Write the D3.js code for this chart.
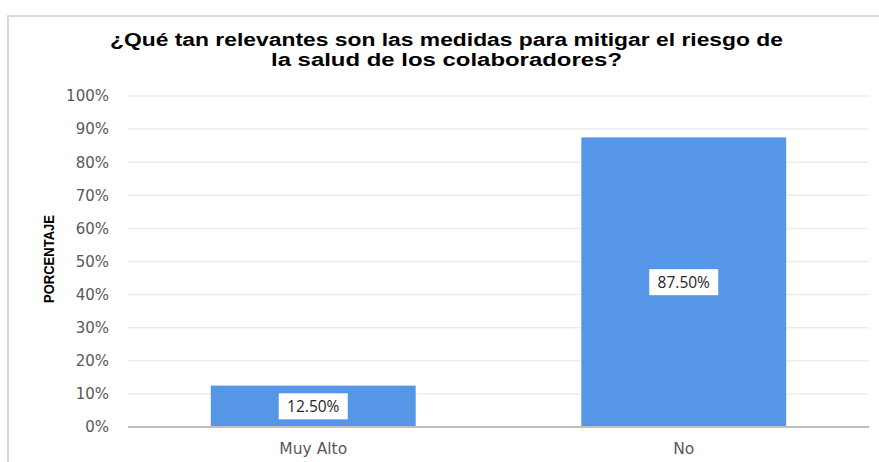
<!DOCTYPE html>
<html>
<head>
<meta charset="utf-8">
<script src="https://cdn.jsdelivr.net/npm/d3@7"></script>
<style>
  html, body { margin: 0; padding: 0; background: #fff; }
  svg { display: block; }
</style>
</head>
<body>
<svg id="chart" width="879" height="462"></svg>
<script>
// Chart data
const categories = ["Muy Alto", "No"];
const values = [12.5, 87.5];
const valueLabels = ["12.50%", "87.50%"];
const yTicks = [0, 10, 20, 30, 40, 50, 60, 70, 80, 90, 100];
const titleLines = ["¿Qué tan relevantes son las medidas para mitigar el riesgo de",
                    "la salud de los colaboradores?"];
const yAxisTitle = "PORCENTAJE";

const margin = { left: 128, top: 96 };
const plotRight = 869, plotBottom = 427;

const svg = d3.select("#chart");

// Outer chart frame
svg.append("rect")
  .attr("x", 8).attr("y", 16)
  .attr("width", 900).attr("height", 500)
  .attr("fill", "#fff")
  .attr("stroke", "#d9d9d9")
  .attr("stroke-width", 2);

// Scales
const x = d3.scaleBand()
  .domain(categories)
  .range([margin.left, plotRight])
  .paddingInner(0.447)
  .paddingOuter(0.2235);

const y = d3.scaleLinear()
  .domain([0, 100])
  .range([plotBottom, margin.top]);

// Title
const title = svg.append("g").attr("class", "title");
const titleWidths = [673, 351];
titleLines.forEach((line, i) => {
  title.append("text")
    .attr("x", 446.5)
    .attr("y", 46 + i * 19.5)
    .attr("text-anchor", "middle")
    .attr("font-family", "'Liberation Sans', Arial, sans-serif")
    .attr("font-weight", "bold")
    .attr("font-size", 18)
    .attr("fill", "#000")
    .attr("textLength", titleWidths[i])
    .attr("lengthAdjust", "spacingAndGlyphs")
    .text(line);
});

// Gridlines
svg.append("g")
  .selectAll("line")
  .data(yTicks.filter(t => t > 0))
  .join("line")
  .attr("x1", margin.left).attr("x2", plotRight)
  .attr("y1", d => y(d)).attr("y2", d => y(d))
  .attr("stroke", "#ececec")
  .attr("stroke-width", 1.5);

// Y axis tick labels
const yAxis = svg.append("g")
  .attr("transform", `translate(${margin.left},0)`)
  .call(d3.axisLeft(y).tickValues(yTicks).tickFormat(d => d + "%").tickSize(0).tickPadding(19));
yAxis.select(".domain").remove();
yAxis.selectAll("text")
  .attr("font-family", "'DejaVu Sans', Verdana, sans-serif")
  .attr("font-size", 15)
  .attr("fill", "#595959");

// Y axis title
svg.append("text")
  .attr("transform", `translate(54,259) rotate(-90)`)
  .attr("text-anchor", "middle")
  .attr("font-family", "'Liberation Sans', Arial, sans-serif")
  .attr("font-weight", "bold")
  .attr("font-size", 15)
  .attr("fill", "#000")
  .attr("textLength", 88)
  .attr("lengthAdjust", "spacingAndGlyphs")
  .text(yAxisTitle);

// Bars
svg.append("g")
  .selectAll("rect")
  .data(values)
  .join("rect")
  .attr("x", (d, i) => x(categories[i]))
  .attr("y", d => y(d))
  .attr("width", x.bandwidth())
  .attr("height", d => y(0) - y(d))
  .attr("fill", "#5596e6");

// Baseline
svg.append("line")
  .attr("x1", margin.left).attr("x2", plotRight)
  .attr("y1", y(0)).attr("y2", y(0))
  .attr("stroke", "#bfbfbf")
  .attr("stroke-width", 2);

// X axis labels
const xAxis = svg.append("g")
  .attr("transform", `translate(0,${plotBottom})`)
  .call(d3.axisBottom(x).tickSize(0).tickPadding(16));
xAxis.select(".domain").remove();
xAxis.selectAll("text")
  .attr("font-family", "'DejaVu Sans', Verdana, sans-serif")
  .attr("font-size", 15.5)
  .attr("fill", "#595959");

// Value labels in white boxes at the bar centres
const labels = svg.append("g")
  .selectAll("g")
  .data(values)
  .join("g")
  .attr("transform", (d, i) =>
    `translate(${x(categories[i]) + x.bandwidth() / 2},${(y(d) + y(0)) / 2})`);

labels.append("rect")
  .attr("x", -34.5).attr("y", -13)
  .attr("width", 69).attr("height", 26)
  .attr("fill", "#fff");

labels.append("text")
  .attr("text-anchor", "middle")
  .attr("dy", "0.36em")
  .attr("font-family", "'Open Sans', 'Noto Sans', sans-serif")
  .attr("font-size", 15.5)
  .attr("fill", "#262626")
  .text((d, i) => valueLabels[i]);
</script>
</body>
</html>
